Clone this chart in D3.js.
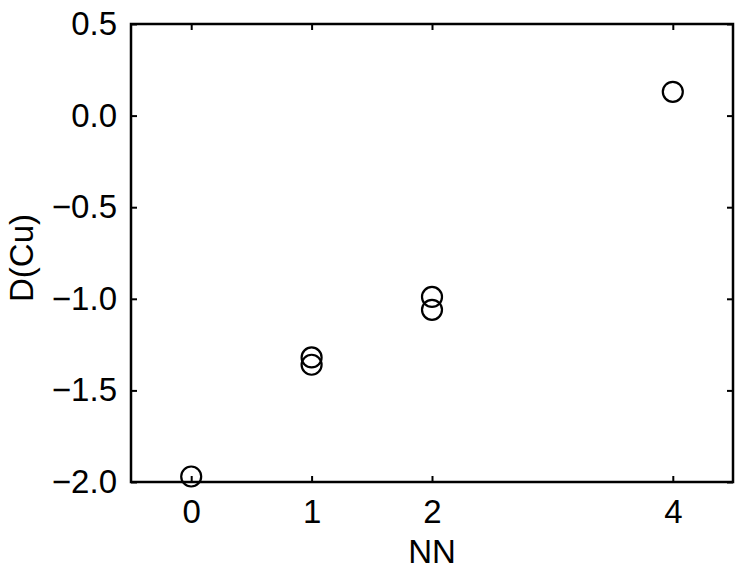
<!DOCTYPE html>
<html>
<head>
<meta charset="utf-8">
<script src="https://cdn.jsdelivr.net/npm/d3@7"></script>
<style>
  body { margin: 0; background: #fff; }
  text { font-family: "Liberation Sans", Arial, sans-serif; }
</style>
</head>
<body>
<div id="chart"></div>
<script>
  // Data
  const nnValues = [0, 1, 1, 2, 2, 4];
  const dCuValues = [-1.97, -1.32, -1.36, -0.99, -1.06, 0.13];
  const xTicks = [0, 1, 2, 4];
  const yTicks = [-2.0, -1.5, -1.0, -0.5, 0.0, 0.5];

  const width = 739, height = 581;
  const margin = { top: 24, right: 6, bottom: 99, left: 131 };
  const innerW = width - margin.left - margin.right;
  const innerH = height - margin.top - margin.bottom;
  const fontSize = 33;

  const svg = d3.select("#chart")
      .append("svg")
      .attr("width", width)
      .attr("height", height);

  const g = svg.append("g")
      .attr("transform", `translate(${margin.left}, ${margin.top})`);

  const x = d3.scaleLinear().domain([-0.5, 4.5]).range([0, innerW]);
  const y = d3.scaleLinear().domain([-2.0, 0.5]).range([innerH, 0]);

  const fmt = d3.format(".1f");

  // Axes with inward ticks
  const styleAxis = sel => {
      sel.selectAll(".domain").remove();
      sel.selectAll(".tick line").attr("stroke", "#000").attr("stroke-width", 2);
      sel.selectAll("text")
          .attr("fill", "#000")
          .style("font-size", fontSize + "px")
          .style("font-family", "'Liberation Sans', Arial, sans-serif");
  };

  g.append("g")
      .attr("transform", `translate(0, ${innerH})`)
      .call(d3.axisBottom(x).tickValues(xTicks).tickFormat(d3.format("d"))
          .tickSizeInner(-6).tickSizeOuter(0).tickPadding(18))
      .call(styleAxis);

  g.append("g")
      .call(d3.axisTop(x).tickValues(xTicks).tickFormat("")
          .tickSizeInner(-6).tickSizeOuter(0))
      .call(styleAxis);

  g.append("g")
      .call(d3.axisLeft(y).tickValues(yTicks).tickFormat(fmt)
          .tickSizeInner(-6).tickSizeOuter(0).tickPadding(14))
      .call(styleAxis);

  g.append("g")
      .attr("transform", `translate(${innerW}, 0)`)
      .call(d3.axisRight(y).tickValues(yTicks).tickFormat("")
          .tickSizeInner(-6).tickSizeOuter(0))
      .call(styleAxis);

  // Frame
  g.append("rect")
      .attr("x", 0)
      .attr("y", 0)
      .attr("width", innerW)
      .attr("height", innerH)
      .attr("fill", "none")
      .attr("stroke", "#000")
      .attr("stroke-width", 2.5);

  // Points
  g.selectAll(".pt")
      .data(nnValues.map((d, i) => ({ nn: d, d: dCuValues[i] })))
      .enter().append("circle")
      .attr("class", "pt")
      .attr("cx", d => x(d.nn))
      .attr("cy", d => y(d.d))
      .attr("r", 10)
      .attr("fill", "none")
      .attr("stroke", "#000")
      .attr("stroke-width", 2.2);

  // Axis labels
  svg.append("text")
      .attr("x", margin.left + innerW / 2)
      .attr("y", 563)
      .attr("text-anchor", "middle")
      .style("font-size", fontSize + "px")
      .text("NN");

  svg.append("text")
      .attr("transform", "translate(33, 258) rotate(-90)")
      .attr("text-anchor", "middle")
      .style("font-size", fontSize + "px")
      .text("D(Cu)");
</script>
</body>
</html>
